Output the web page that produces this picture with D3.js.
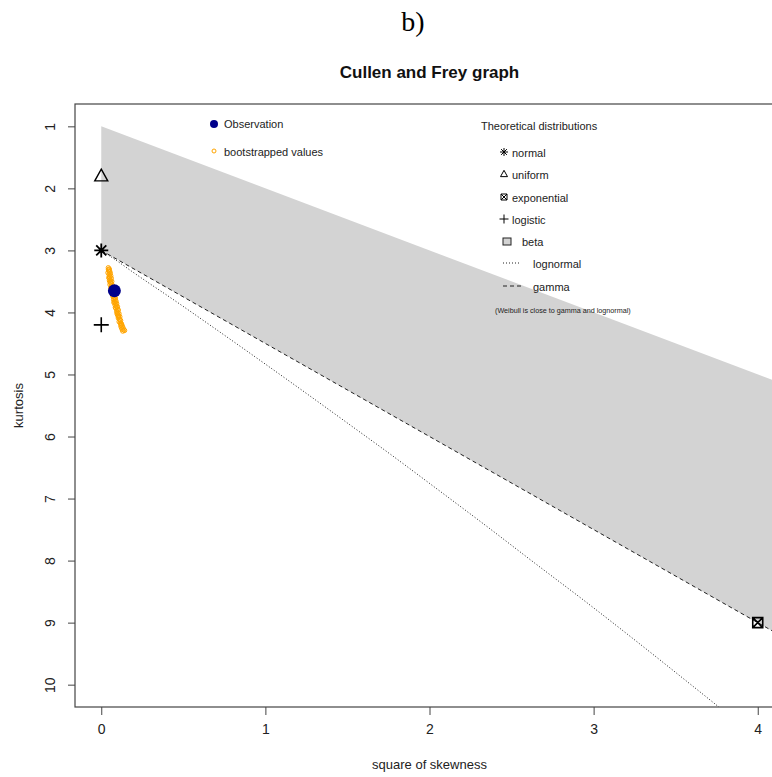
<!DOCTYPE html>
<html>
<head>
<meta charset="utf-8">
<script src="https://cdn.jsdelivr.net/npm/d3@7"></script>
<style>
  body { margin: 0; background: #fff; }
  svg { display: block; font-family: "Liberation Sans", Arial, sans-serif; }
</style>
</head>
<body>
<div id="chart"></div>
<script>
// axis ranges and ticks
const xDomain = [-0.16, 4.16];
const yDomain = [0.64, 10.36];
const xTicks = [0, 1, 2, 3, 4];
const yTicks = [1, 2, 3, 4, 5, 6, 7, 8, 9, 10];

// theoretical distributions (square of skewness, kurtosis)
const betaRegion = [[0, 1], [4.5, 5.5], [4.5, 9.75], [0, 3]];
const gammaLine = [[0, 3], [4.5, 9.75]];
const lognormalLine = [
  [0, 3], [0.091, 3.16], [0.182, 3.33], [0.465, 3.84], [0.709, 4.29],
  [0.961, 4.76], [1.221, 5.25], [1.488, 5.76], [1.764, 6.29], [2.048, 6.85],
  [2.340, 7.43], [2.641, 8.04], [2.950, 8.66], [3.270, 9.32], [3.593, 10.00],
  [3.928, 10.71]
];
const normalPt = [0, 3];
const uniformPt = [0, 1.8];
const exponentialPt = [4, 9];
const logisticPt = [0, 4.2];

// observed value and bootstrap samples
const observation = [0.08, 3.65];
const bootstrap = [
  [0.043,3.28],[0.049,3.30],[0.046,3.33],[0.052,3.34],[0.041,3.36],[0.055,3.37],
  [0.048,3.39],[0.058,3.41],[0.051,3.42],[0.046,3.44],[0.061,3.45],[0.054,3.47],
  [0.050,3.49],[0.064,3.50],[0.057,3.51],[0.060,3.53],[0.053,3.55],[0.067,3.56],
  [0.062,3.58],[0.058,3.60],[0.071,3.61],[0.065,3.62],[0.075,3.64],[0.062,3.65],
  [0.070,3.67],[0.078,3.68],[0.067,3.70],[0.074,3.71],[0.082,3.73],[0.071,3.74],
  [0.079,3.76],[0.086,3.77],[0.075,3.79],[0.084,3.80],[0.090,3.82],[0.080,3.83],
  [0.088,3.85],[0.094,3.86],[0.084,3.88],[0.092,3.90],[0.099,3.91],[0.089,3.93],
  [0.097,3.95],[0.104,3.96],[0.094,3.98],[0.101,4.00],[0.108,4.02],[0.098,4.03],
  [0.106,4.05],[0.113,4.07],[0.104,4.09],[0.111,4.11],[0.118,4.13],[0.109,4.15],
  [0.116,4.17],[0.124,4.19],[0.119,4.21],[0.128,4.22],[0.122,4.24],[0.133,4.25],
  [0.127,4.27],[0.137,4.28],[0.131,4.30],[0.142,4.29],[0.121,4.18],[0.114,4.12],
  [0.103,4.06],[0.096,4.01],[0.086,3.92],[0.077,3.84],[0.070,3.72],[0.063,3.63],
  [0.056,3.52],[0.050,3.45],[0.044,3.31]
];

const W = 772, H = 777;
const plot = { left: 75, right: 784, top: 104, bottom: 707 };

const svg = d3.select('#chart').append('svg')
  .attr('width', W)
  .attr('height', H);

const x = d3.scaleLinear().domain(xDomain).range([plot.left, plot.right]);
const y = d3.scaleLinear().domain(yDomain).range([plot.top, plot.bottom]);

svg.append('defs').append('clipPath')
  .attr('id', 'clip')
  .append('rect')
  .attr('x', plot.left)
  .attr('y', plot.top)
  .attr('width', plot.right - plot.left)
  .attr('height', plot.bottom - plot.top);

// symbol paths (R pch look-alikes)
function asterisk(s) {
  const h = s / 2, d = h * 0.72;
  return `M${-h},0H${h}M0,${-h}V${h}M${-d},${-d}L${d},${d}M${-d},${d}L${d},${-d}`;
}
function plus(s) {
  const h = s / 2;
  return `M${-h},0H${h}M0,${-h}V${h}`;
}
function triangle(s) {
  const h = s / 2;
  return `M0,${-h * 1.05}L${h},${h * 0.75}L${-h},${h * 0.75}Z`;
}
function boxX(s) {
  const h = s / 2;
  return `M${-h},${-h}H${h}V${h}H${-h}ZM${-h},${-h}L${h},${h}M${-h},${h}L${h},${-h}`;
}

const g = svg.append('g').attr('clip-path', 'url(#clip)');

g.append('path')
  .datum(betaRegion)
  .attr('d', d3.line().x(d => x(d[0])).y(d => y(d[1])))
  .style('fill', '#d3d3d3')
  .style('stroke', 'none');

g.append('path')
  .datum(gammaLine)
  .attr('d', d3.line().x(d => x(d[0])).y(d => y(d[1])))
  .style('fill', 'none')
  .style('stroke', '#222')
  .style('stroke-dasharray', '4,3');

g.append('path')
  .datum(lognormalLine)
  .attr('d', d3.line().x(d => x(d[0])).y(d => y(d[1])).curve(d3.curveMonotoneX))
  .style('fill', 'none')
  .style('stroke', '#222')
  .style('stroke-dasharray', '1,2');

g.selectAll('.boot')
  .data(bootstrap)
  .enter().append('circle')
  .attr('class', 'boot')
  .attr('cx', d => x(d[0]))
  .attr('cy', d => y(d[1]))
  .attr('r', 2.2)
  .style('fill', 'none')
  .style('stroke', 'orange')
  .style('stroke-width', 1);

g.append('circle')
  .attr('cx', x(observation[0]))
  .attr('cy', y(observation[1]))
  .attr('r', 6.5)
  .style('fill', 'darkblue');

g.append('path')
  .attr('transform', `translate(${x(normalPt[0])},${y(normalPt[1])})`)
  .attr('d', asterisk(14))
  .style('fill', 'none').style('stroke', '#000').style('stroke-width', 1.8);

g.append('path')
  .attr('transform', `translate(${x(uniformPt[0])},${y(uniformPt[1])})`)
  .attr('d', triangle(13))
  .style('fill', 'none').style('stroke', '#000').style('stroke-width', 1.4);

g.append('path')
  .attr('transform', `translate(${x(logisticPt[0])},${y(logisticPt[1])})`)
  .attr('d', plus(15))
  .style('fill', 'none').style('stroke', '#000').style('stroke-width', 1.6);

g.append('path')
  .attr('transform', `translate(${x(exponentialPt[0])},${y(exponentialPt[1])})`)
  .attr('d', boxX(10))
  .style('fill', 'none').style('stroke', '#000').style('stroke-width', 1.6);

// axes
const xAxis = svg.append('g')
  .attr('transform', `translate(0,${plot.bottom})`)
  .call(d3.axisBottom(x).tickValues(xTicks).tickSize(8).tickPadding(9).tickFormat(d3.format('d')));
xAxis.select('.domain').remove();
xAxis.selectAll('line').style('stroke', '#444');
xAxis.selectAll('text').style('font-size', '14px').style('fill', '#222')
  .style('font-family', '"Liberation Sans", Arial, sans-serif');

const yAxis = svg.append('g')
  .attr('transform', `translate(${plot.left},0)`)
  .call(d3.axisLeft(y).tickValues(yTicks).tickSize(7).tickFormat(d3.format('d')));
yAxis.select('.domain').remove();
yAxis.selectAll('line').style('stroke', '#444');
yAxis.selectAll('text')
  .attr('x', null).attr('dy', null)
  .attr('text-anchor', 'middle')
  .attr('dominant-baseline', 'central')
  .attr('transform', 'translate(-25,0) rotate(-90)')
  .style('font-size', '14px').style('fill', '#222')
  .style('font-family', '"Liberation Sans", Arial, sans-serif');

svg.append('rect')
  .attr('x', plot.left)
  .attr('y', plot.top)
  .attr('width', plot.right - plot.left)
  .attr('height', plot.bottom - plot.top)
  .style('fill', 'none')
  .style('stroke', '#444')
  .style('stroke-width', 1.2);

svg.append('text')
  .attr('x', (plot.left + plot.right) / 2)
  .attr('y', 764)
  .attr('text-anchor', 'middle')
  .attr('dominant-baseline', 'central')
  .style('font-size', '13px').style('fill', '#222')
  .text('square of skewness');

svg.append('text')
  .attr('transform', `translate(18,${(plot.top + plot.bottom) / 2}) rotate(-90)`)
  .attr('text-anchor', 'middle')
  .attr('dominant-baseline', 'central')
  .style('font-size', '13px').style('fill', '#222')
  .text('kurtosis');

svg.append('text')
  .attr('x', (plot.left + plot.right) / 2)
  .attr('y', 78)
  .attr('text-anchor', 'middle')
  .style('font-size', '17px').style('font-weight', 'bold').style('fill', '#111')
  .text('Cullen and Frey graph');

svg.append('text')
  .attr('x', 413)
  .attr('y', 31)
  .attr('text-anchor', 'middle')
  .style('font-family', '"Liberation Serif", "Times New Roman", serif')
  .style('font-size', '28px').style('fill', '#000')
  .text('b)');

// legend: observation / bootstrap
const leg1 = svg.append('g').style('font-size', '11px').style('fill', '#222');
leg1.append('circle').attr('cx', 214).attr('cy', 124).attr('r', 4).style('fill', 'darkblue');
leg1.append('text').attr('x', 224).attr('y', 124).attr('dominant-baseline', 'central').text('Observation');
leg1.append('circle').attr('cx', 214).attr('cy', 151).attr('r', 2)
  .style('fill', 'none').style('stroke', 'orange');
leg1.append('text').attr('x', 224).attr('y', 152).attr('dominant-baseline', 'central').text('bootstrapped values');

// legend: theoretical distributions
const leg2 = svg.append('g').style('font-size', '11px').style('fill', '#222');
leg2.append('text').attr('x', 481).attr('y', 126).attr('dominant-baseline', 'central')
  .text('Theoretical distributions');

const symItems = [
  { label: 'normal', cy: 152, d: asterisk(8) },
  { label: 'uniform', cy: 174, d: triangle(7) },
  { label: 'exponential', cy: 197, d: boxX(6) },
  { label: 'logistic', cy: 219, d: plus(9) }
];
symItems.forEach(it => {
  leg2.append('path')
    .attr('transform', `translate(504,${it.cy})`)
    .attr('d', it.d)
    .style('fill', 'none').style('stroke', '#000').style('stroke-width', 1);
  leg2.append('text').attr('x', 512).attr('y', it.cy + 1).attr('dominant-baseline', 'central').text(it.label);
});

leg2.append('rect').attr('x', 503).attr('y', 238).attr('width', 8).attr('height', 7)
  .style('fill', '#d3d3d3').style('stroke', '#222');
leg2.append('text').attr('x', 522).attr('y', 242).attr('dominant-baseline', 'central').text('beta');

leg2.append('line').attr('x1', 503).attr('x2', 520).attr('y1', 263).attr('y2', 263)
  .style('stroke', '#222').style('stroke-dasharray', '1,2');
leg2.append('text').attr('x', 533).attr('y', 264).attr('dominant-baseline', 'central').text('lognormal');

leg2.append('line').attr('x1', 503).attr('x2', 521).attr('y1', 286).attr('y2', 286)
  .style('stroke', '#222').style('stroke-dasharray', '4,3');
leg2.append('text').attr('x', 533).attr('y', 287).attr('dominant-baseline', 'central').text('gamma');

leg2.append('text').attr('x', 495).attr('y', 310).attr('dominant-baseline', 'central')
  .style('font-size', '7.2px')
  .text('(Weibull is close to gamma and lognormal)');
</script>
</body>
</html>
